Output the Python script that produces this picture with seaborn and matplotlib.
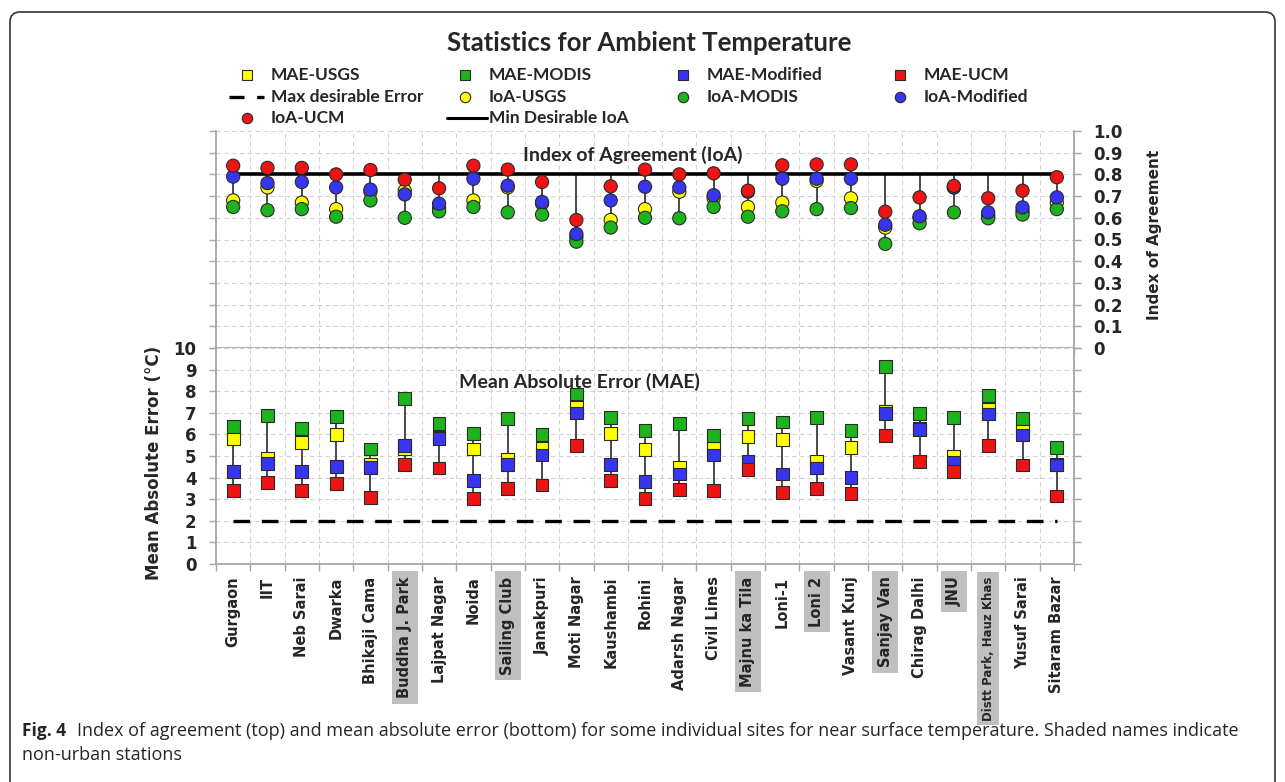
import matplotlib.pyplot as plt
import numpy as np
import pandas as pd
import seaborn as sns
from matplotlib.lines import Line2D
from matplotlib.patches import FancyBboxPatch

sites = ["Gurgaon", "IIT", "Neb Sarai", "Dwarka", "Bhikaji Cama", "Buddha J. Park",
         "Lajpat Nagar", "Noida", "Sailing Club", "Janakpuri", "Moti Nagar", "Kaushambi",
         "Rohini", "Adarsh Nagar", "Civil Lines", "Majnu ka Tila", "Loni-1", "Loni 2",
         "Vasant Kunj", "Sanjay Van", "Chirag Dalhi", "JNU", "Distt Park, Hauz Khas",
         "Yusuf Sarai", "Sitaram Bazar"]
shaded_sites = ["Buddha J. Park", "Sailing Club", "Majnu ka Tila", "Loni 2",
                "Sanjay Van", "JNU", "Distt Park, Hauz Khas"]

ioa_usgs = [0.68, 0.74, 0.67, 0.64, 0.72, 0.725, 0.645, 0.68, 0.74, 0.665, 0.51, 0.59, 0.64,
            0.72, 0.69, 0.65, 0.67, 0.77, 0.69, 0.555, 0.60, 0.74, 0.61, 0.63, 0.67]
ioa_modis = [0.65, 0.635, 0.64, 0.605, 0.68, 0.60, 0.63, 0.65, 0.625, 0.615, 0.49, 0.555, 0.60,
             0.598, 0.65, 0.605, 0.63, 0.64, 0.645, 0.48, 0.575, 0.625, 0.598, 0.615, 0.64]
ioa_modified = [0.79, 0.76, 0.765, 0.74, 0.73, 0.708, 0.665, 0.78, 0.748, 0.673, 0.525, 0.68, 0.743,
                0.74, 0.704, 0.72, 0.78, 0.78, 0.78, 0.568, 0.607, 0.74, 0.625, 0.648, 0.694]
ioa_ucm = [0.84, 0.83, 0.83, 0.80, 0.82, 0.776, 0.736, 0.84, 0.822, 0.765, 0.59, 0.745, 0.822,
           0.80, 0.805, 0.725, 0.842, 0.846, 0.846, 0.628, 0.694, 0.747, 0.69, 0.725, 0.787]

mae_usgs = [5.80, 4.90, 5.64, 6.01, 4.60, 5.32, 5.85, 5.32, 4.82, 5.36, 7.25, 6.06, 5.29,
            4.47, 5.33, 5.90, 5.75, 4.74, 5.41, 7.05, 6.30, 4.98, 7.17, 6.24, 4.60]
mae_modis = [6.37, 6.88, 6.27, 6.83, 5.32, 7.65, 6.49, 6.03, 6.72, 6.01, 7.87, 6.78, 6.17,
             6.52, 5.95, 6.72, 6.57, 6.78, 6.17, 9.15, 6.95, 6.78, 7.80, 6.72, 5.41]
mae_modified = [4.28, 4.67, 4.28, 4.53, 4.48, 5.49, 5.80, 3.86, 4.62, 5.05, 6.99, 4.59, 3.82,
                4.17, 5.05, 4.74, 4.17, 4.44, 4.02, 6.95, 6.24, 4.70, 6.94, 5.97, 4.58]
mae_ucm = [3.40, 3.77, 3.40, 3.71, 3.09, 4.59, 4.44, 3.05, 3.51, 3.66, 5.49, 3.86, 3.05,
           3.46, 3.40, 4.39, 3.31, 3.51, 3.25, 5.95, 4.74, 4.28, 5.50, 4.58, 3.15]

min_desirable_ioa = 0.8
max_desirable_error = 2.0

series = ["USGS", "MODIS", "Modified", "UCM"]
colors = {"USGS": "#FFFF00", "MODIS": "#1DB31D", "Modified": "#3636F0", "UCM": "#EE1414"}

sns.set_style("white")
plt.rcParams["font.family"] = ["DejaVu Sans"]

pos = np.arange(len(sites))
ioa = pd.DataFrame({"site": np.tile(pos, 4),
                    "series": np.repeat(series, len(sites)),
                    "value": np.concatenate([ioa_usgs, ioa_modis, ioa_modified, ioa_ucm])})
mae = pd.DataFrame({"site": np.tile(pos, 4),
                    "series": np.repeat(series, len(sites)),
                    "value": np.concatenate([mae_usgs, mae_modis, mae_modified, mae_ucm])})

W, H = 1285, 782
def fx(x):
    return x / W
def fy(y):
    return 1 - y / H

fig = plt.figure(figsize=(12.85, 7.82), dpi=100)
ax_top = fig.add_axes([fx(216), fy(348), fx(1074) - fx(216), fy(131) - fy(348)])
ax_bot = fig.add_axes([fx(216), fy(564), fx(1074) - fx(216), fy(348) - fy(564)])

edge = "#2a2a2a"
grid_kw = dict(color="#D2D2D2", lw=0.8, ls=(0, (4, 3)))
spine_c = "#A6A6A6"

# top: index of agreement
lo = ioa.groupby("site")["value"].min()
hi = np.maximum(ioa.groupby("site")["value"].max(), min_desirable_ioa)
ax_top.vlines(pos, lo, hi, color="#3c3c3c", lw=1.3, zorder=2)
ax_top.plot(pos, np.full(len(pos), min_desirable_ioa), color="black", lw=2.6, zorder=3)
sns.scatterplot(data=ioa, x="site", y="value", hue="series", hue_order=series, palette=colors,
                marker="o", s=90, edgecolor=edge, linewidth=0.8, legend=False, ax=ax_top, zorder=4)

# bottom: mean absolute error
lo = mae.groupby("site")["value"].min()
hi = mae.groupby("site")["value"].max()
ax_bot.vlines(pos, lo, hi, color="#3c3c3c", lw=1.3, zorder=2)
ax_bot.plot(pos, np.full(len(pos), max_desirable_error), color="black", lw=2.4,
            ls=(0, (5, 3.5)), zorder=3)
sns.scatterplot(data=mae, x="site", y="value", hue="series", hue_order=series, palette=colors,
                marker="s", s=85, edgecolor=edge, linewidth=0.8, legend=False, ax=ax_bot, zorder=4)

for ax in (ax_top, ax_bot):
    ax.set_xlim(-0.5, len(sites) - 0.5)
    ax.set_xticks(pos)
    ax.set_xticks(np.arange(-0.5, len(sites), 1), minor=True)
    ax.grid(True, which="minor", axis="x", **grid_kw)
    ax.grid(True, which="major", axis="y", **grid_kw)
    ax.grid(False, which="major", axis="x")
    ax.set_axisbelow(True)
    ax.set_xlabel("")
    ax.set_ylabel("")
    for s in ax.spines.values():
        s.set_color(spine_c)
        s.set_linewidth(1.3)
    ax.spines["top"].set_visible(False)
    ax.tick_params(axis="x", which="major", length=0)
    ax.tick_params(axis="x", which="minor", bottom=True, length=5, width=1, color=spine_c,
                   direction="out")
    ax.tick_params(axis="y", left=True, right=True, length=5, width=1, color=spine_c,
                   direction="out", labelsize=12, pad=9)

ax_top.set_ylim(0, 1)
ax_top.set_yticks(np.round(np.arange(0, 1.01, 0.1), 1))
ax_top.set_yticklabels(["0"] + [f"{v:.1f}" for v in np.arange(0.1, 1.01, 0.1)], fontweight="bold")
ax_top.tick_params(axis="y", labelleft=False, labelright=True)
ax_top.tick_params(axis="x", labelbottom=False)

ax_bot.set_ylim(0, 10)
ax_bot.set_yticks(range(11))
ax_bot.set_yticklabels([str(v) for v in range(11)], fontweight="bold")
ax_bot.tick_params(axis="y", labelleft=True, labelright=False)
ax_bot.set_xticklabels(sites, rotation=90, fontsize=10.5, fontweight="bold")
ax_bot.tick_params(axis="x", which="major", pad=9)
for lbl in ax_bot.get_xticklabels():
    if lbl.get_text() in shaded_sites:
        lbl.set_bbox(dict(facecolor="#BFBFBF", edgecolor="none", pad=4))
    if lbl.get_text() == "Distt Park, Hauz Khas":
        lbl.set_fontsize(8.5)

ax_bot.set_ylabel("Mean Absolute Error (°C)", fontsize=12, fontweight="bold")
ax_bot.yaxis.set_label_coords(-0.062, 0.47)
ax_top.yaxis.set_label_position("right")
ax_top.set_ylabel("Index of Agreement", fontsize=11, fontweight="bold", rotation=90)
ax_top.yaxis.set_label_coords(1.085, 0.52)

ax_top.text(0.486, 0.889, "Index of Agreement (IoA)", transform=ax_top.transAxes,
            ha="center", va="center", fontsize=14, fontweight="bold", family=["Lato", "DejaVu Sans"])
ax_bot.text(0.424, 0.843, "Mean Absolute Error (MAE)", transform=ax_bot.transAxes,
            ha="center", va="center", fontsize=14, fontweight="bold", family=["Lato", "DejaVu Sans"])

fig.text(fx(649), fy(43), "Statistics for Ambient Temperature", ha="center", va="center",
         fontsize=18.5, fontweight="bold", family=["Lato", "DejaVu Sans"])

# legend laid out like the Excel one: 4 equal columns
col_x = [247, 465, 683, 900]
row_y = [75, 97, 118]
entries = [
    (0, 0, "s", colors["USGS"], "MAE-USGS"), (0, 1, "s", colors["MODIS"], "MAE-MODIS"),
    (0, 2, "s", colors["Modified"], "MAE-Modified"), (0, 3, "s", colors["UCM"], "MAE-UCM"),
    (1, 0, "dash", None, "Max desirable Error"), (1, 1, "o", colors["USGS"], "IoA-USGS"),
    (1, 2, "o", colors["MODIS"], "IoA-MODIS"), (1, 3, "o", colors["Modified"], "IoA-Modified"),
    (2, 0, "o", colors["UCM"], "IoA-UCM"), (2, 1, "line", None, "Min Desirable IoA"),
]
for r, c, kind, col, label in entries:
    x, y = col_x[c], row_y[r]
    if kind == "dash":
        fig.add_artist(Line2D([fx(x - 18), fx(x + 17)], [fy(y), fy(y)], color="black", lw=2.4,
                              ls=(0, (4.5, 3.8)), transform=fig.transFigure))
    elif kind == "line":
        fig.add_artist(Line2D([fx(x - 18), fx(x + 22)], [fy(y), fy(y)], color="black", lw=2.2,
                              transform=fig.transFigure))
    else:
        fig.add_artist(Line2D([fx(x)], [fy(y)], marker=kind, ms=7.5, mfc=col, mec=edge, mew=0.8,
                              ls="none", transform=fig.transFigure))
    fig.text(fx(x + 24), fy(y), label, ha="left", va="center", fontsize=12.5, fontweight="bold",
             family=["Lato", "DejaVu Sans"])

# page frame and caption
frame = FancyBboxPatch((0.1, -0.3), 12.65, 7.70 + 0.3, boxstyle="round,pad=0,rounding_size=0.1",
                       transform=fig.dpi_scale_trans, fill=False, ec="#333333", lw=1.2)
fig.add_artist(frame)
fig.text(fx(22), fy(731), "Fig. 4", ha="left", va="center", fontsize=12.5, fontweight="bold",
         family=["Open Sans", "DejaVu Sans"])
fig.text(fx(77), fy(731),
         "Index of agreement (top) and mean absolute error (bottom) for some individual sites for "
         "near surface temperature. Shaded names indicate",
         ha="left", va="center", fontsize=13, family=["Open Sans", "DejaVu Sans"])
fig.text(fx(22), fy(755), "non-urban stations", ha="left", va="center", fontsize=13,
         family=["Open Sans", "DejaVu Sans"])

fig.savefig("out.png", dpi=100)
